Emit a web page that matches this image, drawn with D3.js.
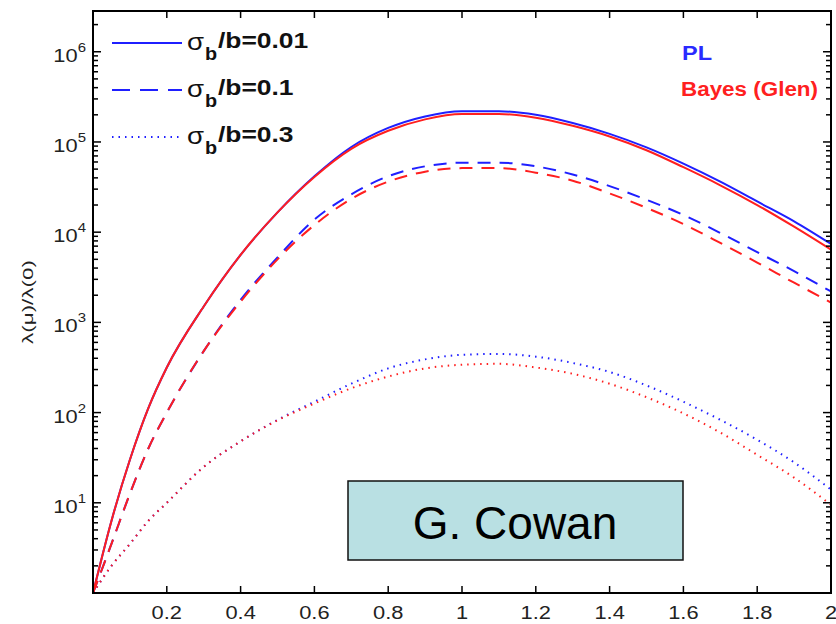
<!DOCTYPE html>
<html>
<head>
<meta charset="utf-8">
<script src="https://cdn.jsdelivr.net/npm/d3@7.9.0/dist/d3.min.js"></script>
<style>
  body { margin: 0; background: #fff; }
  svg { display: block; font-family: Arial, 'Liberation Sans', sans-serif; }
</style>
</head>
<body>
<svg id="chart" width="836" height="624"></svg>
<script>
// DATA
const mu = [0, 0.05, 0.1, 0.15, 0.2, 0.3, 0.4, 0.5, 0.6, 0.7, 0.8, 0.9, 1.0, 1.1, 1.2, 1.3, 1.4, 1.5, 1.6, 1.7, 1.8, 1.9, 2.0];

const plSolid    = [1, 6.3, 30, 112, 316, 1500, 5600, 16600, 41700, 88000, 143000, 192000, 219000, 219000, 200000, 162000, 123000, 87000, 57500, 36300, 21900, 13200, 7400];
const bayesSolid = [1, 6.3, 30, 112, 316, 1500, 5600, 16600, 41000, 84000, 133000, 178000, 204000, 204000, 186000, 151000, 115000, 81000, 52500, 33100, 20000, 11500, 6400];
const plDash     = [1, 3.5, 12.6, 40, 100, 480, 1780, 5250, 13800, 26300, 41700, 53700, 58900, 58900, 53700, 43600, 32400, 22900, 15500, 9800, 6000, 3700, 2200];
const bayesDash  = [1, 3.5, 12.6, 40, 100, 480, 1700, 5000, 12000, 23400, 36300, 46800, 51300, 51300, 45700, 37200, 26900, 18600, 12300, 7600, 4600, 2750, 1660];
const plDot      = [1, 2.0, 3.5, 6.3, 10, 25, 48, 83, 132, 209, 309, 389, 437, 447, 417, 355, 282, 200, 132, 83, 50, 28, 14];
const bayesDot   = [1, 2.0, 3.5, 6.3, 10, 25, 48, 82, 126, 186, 251, 309, 339, 347, 316, 269, 209, 148, 98, 60, 34, 19, 9.5];

const xTicks = [0.2, 0.4, 0.6, 0.8, 1, 1.2, 1.4, 1.6, 1.8, 2];
const yDecades = [1, 2, 3, 4, 5, 6];
const legendLabels = ['0.01', '0.1', '0.3'];

const svg = d3.select('#chart');
const plot = { left: 93, right: 831, top: 11, bottom: 593 };

const x = d3.scaleLinear().domain([0, 2]).range([plot.left, plot.right]);
const y = d3.scaleLog().domain([1, 2.83e6]).range([plot.bottom, plot.top]);

const blue = '#1f1fff', red = '#ff1f1f';
const styles = {
  solid: { dash: null, legendDash: null },
  dash: { dash: '13,9', legendDash: '18,10' },
  dot: { dash: '1.5,5', legendDash: '1.5,5' }
};

const series = [
  { vals: plSolid, color: blue, style: 'solid' },
  { vals: plDash, color: blue, style: 'dash' },
  { vals: plDot, color: blue, style: 'dot' },
  { vals: bayesSolid, color: red, style: 'solid' },
  { vals: bayesDash, color: red, style: 'dash' },
  { vals: bayesDot, color: red, style: 'dot' }
];

const line = d3.line()
  .x((d, i) => x(mu[i]))
  .y(d => y(d))
  .curve(d3.curveMonotoneX);

series.forEach(s => {
  svg.append('path')
    .attr('d', line(s.vals))
    .attr('fill', 'none')
    .attr('stroke', s.color)
    .attr('stroke-width', 2)
    .attr('stroke-dasharray', styles[s.style].dash);
});

// frame
svg.append('rect')
  .attr('x', plot.left).attr('y', plot.top)
  .attr('width', plot.right - plot.left).attr('height', plot.bottom - plot.top)
  .attr('fill', 'none').attr('stroke', '#000').attr('stroke-width', 2);

// x ticks (bottom + top)
const tickG = svg.append('g').attr('stroke', '#000').attr('stroke-width', 1.5);
xTicks.forEach(t => {
  tickG.append('line').attr('x1', x(t)).attr('x2', x(t)).attr('y1', plot.bottom).attr('y2', plot.bottom - 7);
  tickG.append('line').attr('x1', x(t)).attr('x2', x(t)).attr('y1', plot.top).attr('y2', plot.top + 7);
  svg.append('text')
    .attr('transform', `translate(${x(t)},619) scale(1.15,1)`)
    .attr('text-anchor', 'middle')
    .attr('font-size', 19).attr('fill', '#222')
    .text(t);
});

// y ticks (log, major + minor)
for (let k = 0; k <= 6; k++) {
  for (let m = 1; m <= 9; m++) {
    const v = m * Math.pow(10, k);
    if (v > y.domain()[1]) continue;
    const len = m === 1 ? 8 : 5;
    tickG.append('line').attr('x1', plot.left).attr('x2', plot.left + len).attr('y1', y(v)).attr('y2', y(v));
    tickG.append('line').attr('x1', plot.right).attr('x2', plot.right - len).attr('y1', y(v)).attr('y2', y(v));
  }
}
yDecades.forEach(k => {
  const t = svg.append('text')
    .attr('transform', `translate(86,${y(Math.pow(10, k)) + 10}) scale(1.15,1)`)
    .attr('text-anchor', 'end')
    .attr('font-size', 19).attr('fill', '#222');
  t.append('tspan').text('10');
  t.append('tspan').attr('font-size', 13).attr('dy', -10).text(k);
});

// y axis label
svg.append('text')
  .attr('transform', 'translate(33,302) rotate(-90)')
  .attr('text-anchor', 'middle')
  .attr('font-size', 15).attr('fill', '#222')
  .attr('textLength', 84).attr('lengthAdjust', 'spacingAndGlyphs')
  .text('λ(μ)/λ(0)');

// legend
legendLabels.forEach((lab, i) => {
  const ly = 43 + i * 47;
  svg.append('line')
    .attr('x1', 112).attr('x2', 182).attr('y1', ly).attr('y2', ly)
    .attr('stroke', blue)
    .attr('stroke-width', 2)
    .attr('stroke-dasharray', styles[['solid', 'dash', 'dot'][i]].legendDash);
  svg.append('text')
    .attr('transform', `translate(187,${ly + 7}) scale(1.15,1)`)
    .attr('font-size', 24).attr('fill', '#111')
    .text('σ');
  svg.append('text')
    .attr('transform', `translate(205,${ly + 17}) scale(1.1,1)`)
    .attr('font-size', 18).attr('font-weight', 'bold').attr('fill', '#111')
    .text('b');
  svg.append('text')
    .attr('transform', `translate(218,${ly + 5}) scale(1.2,1)`)
    .attr('font-size', 22).attr('font-weight', 'bold').attr('fill', '#111')
    .text('/b=' + lab);
});

svg.append('text').attr('x', 682).attr('y', 60)
  .attr('font-size', 20).attr('font-weight', 'bold').attr('fill', '#2a2aff')
  .attr('textLength', 30).attr('lengthAdjust', 'spacingAndGlyphs').text('PL');
svg.append('text').attr('x', 681).attr('y', 96)
  .attr('font-size', 20).attr('font-weight', 'bold').attr('fill', '#ff2020')
  .attr('textLength', 137).attr('lengthAdjust', 'spacingAndGlyphs').text('Bayes (Glen)');

// watermark box
svg.append('rect')
  .attr('x', 348).attr('y', 481).attr('width', 335).attr('height', 79)
  .attr('fill', '#b9e0e3').attr('stroke', '#111').attr('stroke-width', 1.5);
svg.append('text')
  .attr('x', 515).attr('y', 539)
  .attr('text-anchor', 'middle')
  .attr('font-size', 46).attr('fill', '#000')
  .text('G. Cowan');
</script>
</body>
</html>
